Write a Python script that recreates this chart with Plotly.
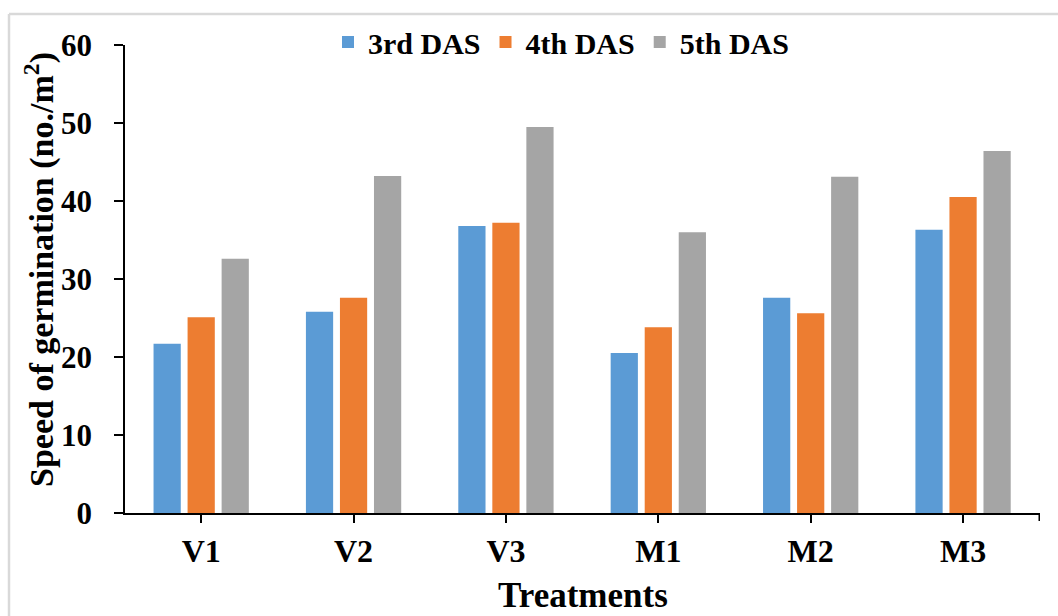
import plotly.graph_objects as go

categories = ["V1", "V2", "V3", "M1", "M2", "M3"]
das3 = [21.7, 25.8, 36.8, 20.5, 27.6, 36.3]
das4 = [25.1, 27.6, 37.2, 23.8, 25.6, 40.5]
das5 = [32.6, 43.2, 49.5, 36.0, 43.1, 46.4]
series_names = ["3rd DAS", "4th DAS", "5th DAS"]
colors = ["#5B9BD5", "#ED7D31", "#A5A5A5"]

FONT = "Liberation Serif"
W, H = 1058, 616
L, R, T, B = 125, 18, 45, 103
pw, ph = W - L - R, H - T - B

def px_x(px):
    return (px - L) / pw

def px_y(py):
    return (H - B - py) / ph

fig = go.Figure()
for name, vals, col in zip(series_names, [das3, das4, das5], colors):
    fig.add_trace(go.Bar(x=categories, y=vals, name=name,
                         marker=dict(color=col, line=dict(width=0))))

fig.update_layout(
    width=W, height=H,
    margin=dict(l=L, r=R, t=T, b=B, autoexpand=False),
    paper_bgcolor="white", plot_bgcolor="white",
    barmode="group", bargap=0.33, bargroupgap=0.2,
    font=dict(family=FONT, color="black"),
    showlegend=True,
    legend=dict(orientation="h", x=px_x(561), xanchor="center",
                y=px_y(42), yanchor="middle",
                font=dict(family=FONT, size=30, color="black", weight="bold"),
                bgcolor="rgba(0,0,0,0)", itemwidth=30, traceorder="normal"),
)

fig.update_xaxes(
    showline=True, linecolor="black", linewidth=1.5,
    ticks="outside", ticklen=8, tickcolor="black", tickwidth=1.5,
    showgrid=False, zeroline=False,
    tickfont=dict(family=FONT, size=32, color="black", weight="bold"),
    ticklabelstandoff=1,
)
fig.update_yaxes(
    range=[0, 60], dtick=10, tick0=0,
    showline=True, linecolor="black", linewidth=1.5,
    ticks="outside", ticklen=9, tickcolor="black", tickwidth=1.5,
    showgrid=False, zeroline=False,
    tickfont=dict(family=FONT, size=31, color="black", weight="bold"),
    ticklabelstandoff=16,
)

# end tick at right of x-axis
fig.add_shape(type="line", xref="x", yref="paper", x0=5.5, x1=5.5,
              y0=0, y1=-8 / ph, line=dict(color="black", width=1.5))

# outer frame (light gray)
fig.add_shape(type="line", xref="paper", yref="paper",
              x0=px_x(9), x1=px_x(1070), y0=px_y(14), y1=px_y(14),
              line=dict(color="#D9D9D9", width=2.5))
fig.add_shape(type="line", xref="paper", yref="paper",
              x0=px_x(9), x1=px_x(9), y0=px_y(14), y1=px_y(640),
              line=dict(color="#D9D9D9", width=2.5))

fig.add_annotation(text="Speed of germination (no./m<sup>2</sup>)",
                   xref="paper", yref="paper", x=px_x(39), y=px_y(270),
                   xanchor="center", yanchor="middle", textangle=-90,
                   showarrow=False,
                   font=dict(family=FONT, size=34, color="black", weight="bold"))
fig.add_annotation(text="Treatments",
                   xref="paper", yref="paper", x=px_x(583), y=px_y(595),
                   xanchor="center", yanchor="middle", showarrow=False,
                   font=dict(family=FONT, size=35, color="black", weight="bold"))

fig.write_html("out.html", config={"displayModeBar": False},
               post_script="document.body.style.margin='0';document.body.style.padding='0';")
